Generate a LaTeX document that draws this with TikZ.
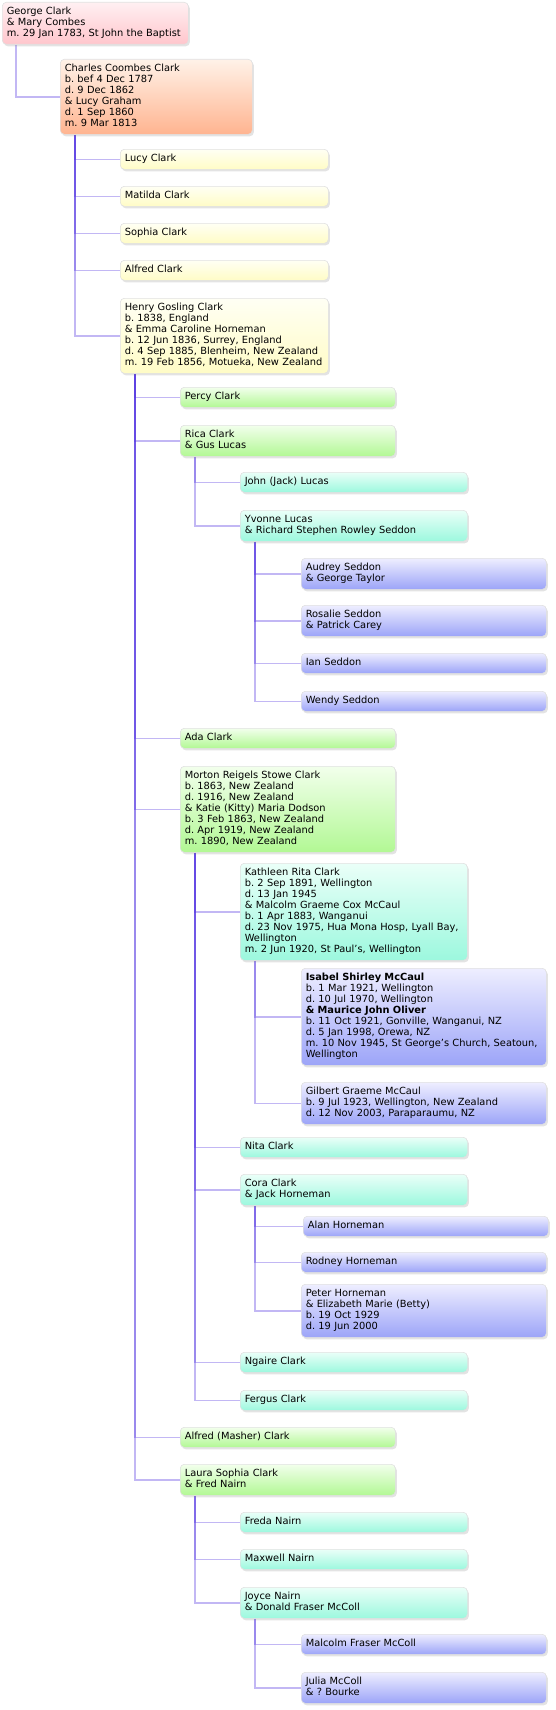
\documentclass[tikz,border=0pt]{standalone}
\usepackage{fontspec}
\setmainfont{DejaVu Sans}
\usetikzlibrary{shadows,backgrounds}
\frenchspacing
\definecolor{pinktop}{HTML}{FFF0F2}
\definecolor{pinkbot}{HTML}{FFC6CC}
\definecolor{orangetop}{HTML}{FFF2E8}
\definecolor{orangebot}{HTML}{FFB490}
\definecolor{yellowtop}{HTML}{FFFFF4}
\definecolor{yellowbot}{HTML}{FFFCC6}
\definecolor{greentop}{HTML}{F2FFEC}
\definecolor{greenbot}{HTML}{B2F894}
\definecolor{aquatop}{HTML}{EAFFF8}
\definecolor{aquabot}{HTML}{9CF8DE}
\definecolor{bluetop}{HTML}{EEEEFF}
\definecolor{bluebot}{HTML}{9CA4F8}
\definecolor{linkblue}{HTML}{5032E0}
\begin{document}
\begin{tikzpicture}[x=1pt, y=-1pt,
  person/.style={draw=black!12, line width=.6pt, rounded corners=4pt, anchor=north west, align=left,
    inner xsep=4.5pt, inner ysep=4.5pt, font=\fontsize{9.85}{11}\selectfont\parindent0pt,
    execute at begin node=\strut, execute at end node=\strut,
    drop shadow={shadow xshift=1.5pt, shadow yshift=-2pt, opacity=.22}},
  gen1/.style={person, text width=177pt, top color=pinktop, bottom color=pinkbot},
  gen2/.style={person, text width=183pt, top color=orangetop, bottom color=orangebot},
  gen3/.style={person, text width=199pt, top color=yellowtop, bottom color=yellowbot},
  gen4/.style={person, text width=206pt, top color=greentop, bottom color=greenbot},
  gen5/.style={person, text width=218pt, top color=aquatop, bottom color=aquabot},
  gen6/.style={person, text width=236pt, top color=bluetop, bottom color=bluebot},
  link/.style={draw=linkblue, line width=1.5pt, opacity=.35}]
\useasboundingbox (0,0) rectangle (555,1710);

\node[gen1] (george) at (2,2) {George Clark\\\& Mary Combes\\m. 29 Jan 1783, St John the Baptist};
\node[gen2] (charles) at (60,59) {Charles Coombes Clark\\b. bef 4 Dec 1787\\d. 9 Dec 1862\\\& Lucy Graham\\d. 1 Sep 1860\\m. 9 Mar 1813};
\node[gen3] (lucy) at (120,149) {Lucy Clark};
\node[gen3] (matilda) at (120,186) {Matilda Clark};
\node[gen3] (sophia) at (120,223) {Sophia Clark};
\node[gen3] (alfred) at (120,260) {Alfred Clark};
\node[gen3] (henry) at (120,298) {Henry Gosling Clark\\b. 1838, England\\\& Emma Caroline Horneman\\b. 12 Jun 1836, Surrey, England\\d. 4 Sep 1885, Blenheim, New Zealand\\m. 19 Feb 1856, Motueka, New Zealand};
\node[gen4] (percy) at (180,387) {Percy Clark};
\node[gen4] (rica) at (180,425) {Rica Clark\\\& Gus Lucas};
\node[gen5] (john) at (240,472) {John (Jack) Lucas};
\node[gen5] (yvonne) at (240,510) {Yvonne Lucas\\\& Richard Stephen Rowley Seddon};
\node[gen6] (audrey) at (301,558) {Audrey Seddon\\\& George Taylor};
\node[gen6] (rosalie) at (301,605) {Rosalie Seddon\\\& Patrick Carey};
\node[gen6] (ian) at (301,653) {Ian Seddon};
\node[gen6] (wendy) at (301,691) {Wendy Seddon};
\node[gen4] (ada) at (180,728) {Ada Clark};
\node[gen4] (morton) at (180,766) {Morton Reigels Stowe Clark\\b. 1863, New Zealand\\d. 1916, New Zealand\\\& Katie (Kitty) Maria Dodson\\b. 3 Feb 1863, New Zealand\\d. Apr 1919, New Zealand\\m. 1890, New Zealand};
\node[gen5] (kathleen) at (240,863) {Kathleen Rita Clark\\b. 2 Sep 1891, Wellington\\d. 13 Jan 1945\\\& Malcolm Graeme Cox McCaul\\b. 1 Apr 1883, Wanganui\\d. 23 Nov 1975, Hua Mona Hosp, Lyall Bay,\\Wellington\\m. 2 Jun 1920, St Paul's, Wellington};
\node[gen6] (isabel) at (301,968) {\textbf{Isabel Shirley McCaul}\\b. 1 Mar 1921, Wellington\\d. 10 Jul 1970, Wellington\\\textbf{\& Maurice John Oliver}\\b. 11 Oct 1921, Gonville, Wanganui, NZ\\d. 5 Jan 1998, Orewa, NZ\\m. 10 Nov 1945, St George's Church, Seatoun,\\Wellington};
\node[gen6] (gilbert) at (301,1082) {Gilbert Graeme McCaul\\b. 9 Jul 1923, Wellington, New Zealand\\d. 12 Nov 2003, Paraparaumu, NZ};
\node[gen5] (nita) at (240,1137) {Nita Clark};
\node[gen5] (cora) at (240,1174) {Cora Clark\\\& Jack Horneman};
\node[gen6] (alan) at (303,1216) {Alan Horneman};
\node[gen6] (rodney) at (301,1252) {Rodney Horneman};
\node[gen6] (peter) at (301,1284) {Peter Horneman\\\& Elizabeth Marie (Betty)\\b. 19 Oct 1929\\d. 19 Jun 2000};
\node[gen5] (ngaire) at (240,1352) {Ngaire Clark};
\node[gen5] (fergus) at (240,1390) {Fergus Clark};
\node[gen4] (masher) at (180,1427) {Alfred (Masher) Clark};
\node[gen4] (laura) at (180,1464) {Laura Sophia Clark\\\& Fred Nairn};
\node[gen5] (freda) at (240,1512) {Freda Nairn};
\node[gen5] (maxwell) at (240,1549) {Maxwell Nairn};
\node[gen5] (joyce) at (240,1587) {Joyce Nairn\\\& Donald Fraser McColl};
\node[gen6] (malcolm) at (301,1634) {Malcolm Fraser McColl};
\node[gen6] (julia) at (301,1672) {Julia McColl\\\& ? Bourke};

\begin{scope}[on background layer]
% one elbow per child, the shared trunk darkens where they overlap
\draw[link] ([xshift=14pt]george.south west) |- (charles.west);
\draw[link] ([xshift=15pt]charles.south west) |- (lucy.west);
\draw[link] ([xshift=15pt]charles.south west) |- (matilda.west);
\draw[link] ([xshift=15pt]charles.south west) |- (sophia.west);
\draw[link] ([xshift=15pt]charles.south west) |- (alfred.west);
\draw[link] ([xshift=15pt]charles.south west) |- (henry.west);
\draw[link] ([xshift=15pt]henry.south west) |- (percy.west);
\draw[link] ([xshift=15pt]henry.south west) |- (rica.west);
\draw[link] ([xshift=15pt]henry.south west) |- (ada.west);
\draw[link] ([xshift=15pt]henry.south west) |- (morton.west);
\draw[link] ([xshift=15pt]henry.south west) |- (masher.west);
\draw[link] ([xshift=15pt]henry.south west) |- (laura.west);
\draw[link] ([xshift=15pt]rica.south west) |- (john.west);
\draw[link] ([xshift=15pt]rica.south west) |- (yvonne.west);
\draw[link] ([xshift=15pt]yvonne.south west) |- (audrey.west);
\draw[link] ([xshift=15pt]yvonne.south west) |- (rosalie.west);
\draw[link] ([xshift=15pt]yvonne.south west) |- (ian.west);
\draw[link] ([xshift=15pt]yvonne.south west) |- (wendy.west);
\draw[link] ([xshift=15pt]morton.south west) |- (kathleen.west);
\draw[link] ([xshift=15pt]morton.south west) |- (nita.west);
\draw[link] ([xshift=15pt]morton.south west) |- (cora.west);
\draw[link] ([xshift=15pt]morton.south west) |- (ngaire.west);
\draw[link] ([xshift=15pt]morton.south west) |- (fergus.west);
\draw[link] ([xshift=15pt]kathleen.south west) |- (isabel.west);
\draw[link] ([xshift=15pt]kathleen.south west) |- (gilbert.west);
\draw[link] ([xshift=15pt]cora.south west) |- (alan.west);
\draw[link] ([xshift=15pt]cora.south west) |- (rodney.west);
\draw[link] ([xshift=15pt]cora.south west) |- (peter.west);
\draw[link] ([xshift=15pt]laura.south west) |- (freda.west);
\draw[link] ([xshift=15pt]laura.south west) |- (maxwell.west);
\draw[link] ([xshift=15pt]laura.south west) |- (joyce.west);
\draw[link] ([xshift=15pt]joyce.south west) |- (malcolm.west);
\draw[link] ([xshift=15pt]joyce.south west) |- (julia.west);
\end{scope}
\end{tikzpicture}
\end{document}
